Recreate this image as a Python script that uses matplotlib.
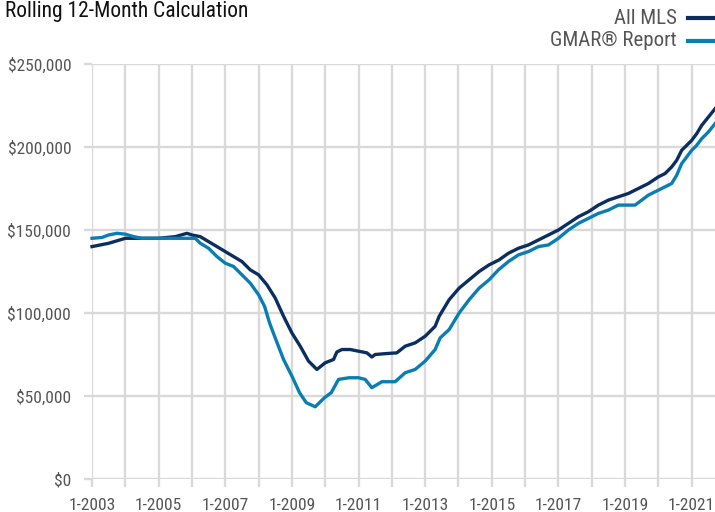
import matplotlib
matplotlib.use("Agg")
import matplotlib.pyplot as plt
from matplotlib import font_manager
from matplotlib.ticker import FuncFormatter, MultipleLocator

names = {f.name for f in font_manager.fontManager.ttflist}
FONT = "Roboto"
for cand in ["Roboto Condensed", "Liberation Sans Narrow", "Open Sans Condensed", "DejaVu Sans Condensed"]:
    if cand in names:
        FONT = cand
        break
plt.rcParams['font.family'] = [FONT, 'DejaVu Sans']
condensed = FONT != "Roboto"

title = "Rolling 12-Month Calculation"
series_names = ["All MLS", "GMAR® Report"]

mls_t = [2003.0, 2003.5, 2004.0, 2004.5, 2005.0, 2005.5, 2005.85, 2006.0, 2006.25, 2006.5,
         2006.75, 2007.0, 2007.5, 2007.75, 2008.0, 2008.25, 2008.5, 2008.75, 2009.0, 2009.25,
         2009.5, 2009.75, 2010.0, 2010.25, 2010.35, 2010.5, 2010.75, 2011.0, 2011.25, 2011.4,
         2011.5, 2011.8, 2012.15, 2012.4, 2012.7, 2013.0, 2013.15, 2013.3, 2013.42, 2013.72,
         2014.02, 2014.32, 2014.62, 2014.92, 2015.22, 2015.5, 2015.8, 2016.1, 2016.4, 2016.7,
         2017.0, 2017.3, 2017.6, 2017.9, 2018.2, 2018.5, 2018.8, 2019.1, 2019.4, 2019.7,
         2020.0, 2020.2, 2020.4, 2020.55, 2020.7, 2020.85, 2021.0, 2021.15, 2021.3, 2021.5, 2021.7]
mls_v = [140000, 142000, 145000, 145000, 145000, 146000, 148000, 147000, 146000, 143000,
         140000, 137000, 131000, 126000, 123000, 117000, 109000, 98000, 88000, 80000,
         71000, 66000, 70000, 72000, 76500, 78000, 78000, 77000, 76000, 73500,
         75000, 75500, 76000, 80000, 82000, 86000, 89000, 92000, 98000, 108000,
         115000, 120000, 125000, 129000, 132000, 136000, 139000, 141000, 144000, 147000,
         150000, 154000, 158000, 161000, 165000, 168000, 170000, 172000, 175000, 178000,
         182000, 184000, 188000, 192000, 198000, 201000, 204000, 208000, 213000, 218000, 223000]

gmar_t = [2003.0, 2003.3, 2003.5, 2003.75, 2004.0, 2004.25, 2004.5, 2005.0, 2005.5, 2006.0,
          2006.1, 2006.25, 2006.5, 2006.75, 2007.0, 2007.25, 2007.5, 2007.75, 2008.0, 2008.18,
          2008.33, 2008.48, 2008.75, 2009.0, 2009.23, 2009.43, 2009.7, 2009.98, 2010.18, 2010.4,
          2010.72, 2011.0, 2011.2, 2011.4, 2011.7, 2012.1, 2012.4, 2012.7, 2013.0, 2013.3,
          2013.45, 2013.72, 2014.02, 2014.32, 2014.62, 2014.92, 2015.2, 2015.5, 2015.8, 2016.1,
          2016.4, 2016.7, 2017.0, 2017.3, 2017.6, 2017.9, 2018.2, 2018.5, 2018.8, 2019.3,
          2019.5, 2019.7, 2020.1, 2020.4, 2020.55, 2020.7, 2020.85, 2021.0, 2021.15, 2021.3,
          2021.5, 2021.7]
gmar_v = [145000, 145500, 147000, 148000, 147500, 146000, 145000, 145000, 145000, 145000,
          145000, 142000, 139000, 134000, 130000, 128000, 123000, 118000, 111000, 104000,
          94000, 86000, 72000, 62000, 52000, 46000, 43500, 49000, 52000, 60000,
          61000, 61000, 60000, 55000, 58600, 58600, 64000, 66000, 71000, 78000,
          85000, 90000, 100000, 108000, 115000, 120000, 126000, 131000, 135000, 137000,
          140000, 141000, 145000, 150000, 154000, 157000, 160000, 162000, 165000, 165000,
          168000, 171000, 175000, 178000, 183000, 190000, 194000, 198000, 201000, 205000,
          209000, 214000]

colors = ["#0b2e5f", "#0a7eb3"]
grid_c = "#d9d9d9"
text_c = "#555555"

W, H = 715, 512
fig = plt.figure(figsize=(W / 100, H / 100), dpi=100)
ax = fig.add_axes([92 / W, 1 - 479 / H, (715 - 92) / W, (479 - 64) / H])

ax.plot(mls_t, mls_v, color=colors[0], lw=2.4, solid_joinstyle="round", zorder=3, clip_on=False)
ax.plot(gmar_t, gmar_v, color=colors[1], lw=2.4, solid_joinstyle="round", zorder=3, clip_on=False)

ax.set_xlim(2003.0, 2021.7)
ax.set_ylim(0, 250000)
ax.xaxis.set_major_locator(MultipleLocator(1))
ax.yaxis.set_major_locator(MultipleLocator(50000))
ax.xaxis.set_major_formatter(FuncFormatter(lambda v, p: f"1-{int(round(v))}" if int(round(v)) % 2 == 1 else ""))
ax.yaxis.set_major_formatter(FuncFormatter(lambda v, p: f"${int(v):,}"))
ax.grid(True, color=grid_c, lw=1.7, zorder=0)
ax.set_axisbelow(True)
for s in ax.spines.values():
    s.set_visible(False)
tsize = 12.5 if condensed else 11
ax.tick_params(axis="both", color=grid_c, width=1.7, length=6, labelcolor=text_c, labelsize=tsize)
ax.tick_params(axis="y", pad=9)
ax.tick_params(axis="x", pad=8)

fig.text(5 / W, 1 - 12 / H, title, fontsize=15.5 if condensed else 14, color="#111111", ha="left", va="center")
lsize = 15 if condensed else 13.5
for i, (nm, c) in enumerate(zip(series_names, colors)):
    yy = 1 - (18 + i * 23) / H
    fig.text(677 / W, yy, nm, fontsize=lsize, color=text_c, ha="right", va="center")
    fig.add_artist(plt.Line2D([688 / W, 716 / W], [yy, yy], color=c, lw=3, transform=fig.transFigure))

fig.savefig("out.png", dpi=100)
